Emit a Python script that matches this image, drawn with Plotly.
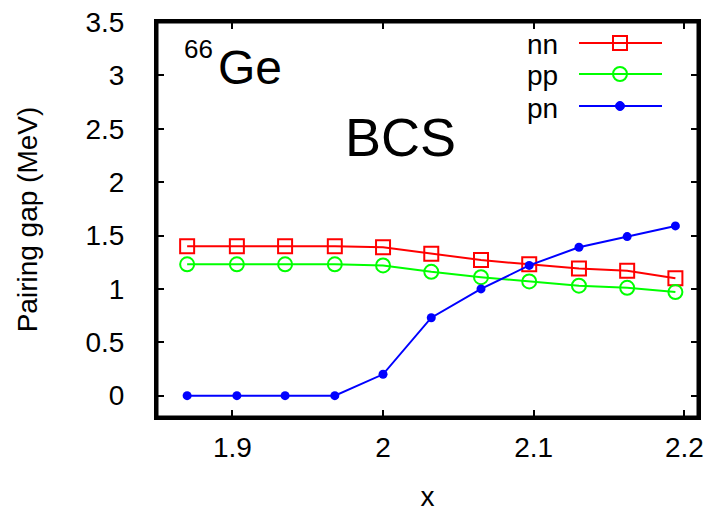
import plotly.graph_objects as go

# ---- data ----
x_vals = [1.870, 1.903, 1.935, 1.968, 2.000, 2.032, 2.065, 2.097, 2.130, 2.162, 2.194]
gap_nn = [1.40, 1.40, 1.40, 1.40, 1.39, 1.33, 1.27, 1.23, 1.19, 1.17, 1.10]
gap_pp = [1.23, 1.23, 1.23, 1.23, 1.22, 1.16, 1.11, 1.07, 1.03, 1.01, 0.97]
gap_pn = [0.00, 0.00, 0.00, 0.00, 0.20, 0.73, 1.00, 1.22, 1.39, 1.49, 1.59]
series_names = ["nn", "pp", "pn"]
x_tickvals = [1.9, 2.0, 2.1, 2.2]
x_ticktext = ["1.9", "2", "2.1", "2.2"]
y_tickvals = [0, 0.5, 1, 1.5, 2, 2.5, 3, 3.5]
y_ticktext = ["0", "0.5", "1", "1.5", "2", "2.5", "3", "3.5"]

# ---- layout geometry (screen pixels of the 715x512 window) ----
W, H = 715, 512
L, R, T, B = 157, 698, 22, 417
FONT = "Liberation Sans, Arial, sans-serif"
FS = 28

def px(xp):
    return (xp - L) / (R - L)

def py(yp):
    return (B - yp) / (B - T)

RED, GREEN, BLUE = "#ff0000", "#00ff00", "#0000ff"

fig = go.Figure()
fig.add_trace(go.Scatter(x=x_vals, y=gap_nn, mode="lines+markers", name=series_names[0],
                         line=dict(color=RED, width=2),
                         marker=dict(symbol="square-open", size=14, color=RED, line=dict(width=2, color=RED))))
fig.add_trace(go.Scatter(x=x_vals, y=gap_pp, mode="lines+markers", name=series_names[1],
                         line=dict(color=GREEN, width=2),
                         marker=dict(symbol="circle-open", size=14, color=GREEN, line=dict(width=2, color=GREEN))))
fig.add_trace(go.Scatter(x=x_vals, y=gap_pn, mode="lines+markers", name=series_names[2],
                         line=dict(color=BLUE, width=2),
                         marker=dict(symbol="circle", size=9, color=BLUE)))

axis_common = dict(showline=True, linewidth=3, linecolor="black", mirror="ticks",
                   ticks="inside", ticklen=7, tickwidth=2, tickcolor="black",
                   showgrid=False, zeroline=False, ticklabeloverflow="allow",
                   tickfont=dict(family=FONT, size=FS, color="black"))

fig.update_xaxes(range=[1.85, 2.209], tickvals=x_tickvals, ticktext=x_ticktext,
                 ticklabelstandoff=3,
                 title=dict(text="x", font=dict(family=FONT, size=FS, color="black"), standoff=26),
                 **axis_common)
fig.update_yaxes(range=[-0.2, 3.5], tickvals=y_tickvals, ticktext=y_ticktext,
                 ticklabelstandoff=24,
                 title=dict(text="Pairing gap (MeV)", font=dict(family=FONT, size=FS, color="black"), standoff=40),
                 **axis_common)

annotations = [
    dict(text="66", x=px(182), y=py(49), xref="paper", yref="paper", xanchor="left", yanchor="middle",
         showarrow=False, font=dict(family=FONT, size=FS - 2, color="black")),
    dict(text="Ge", x=px(216), y=py(68), xref="paper", yref="paper", xanchor="left", yanchor="middle",
         showarrow=False, font=dict(family=FONT, size=48, color="black")),
    dict(text="BCS", x=px(400), y=py(137), xref="paper", yref="paper", xanchor="center", yanchor="middle",
         showarrow=False, font=dict(family=FONT, size=54, color="black")),
]

# explicit frame
shapes = [dict(type="rect", xref="paper", yref="paper", x0=0, x1=1, y0=0, y1=1,
               line=dict(color="black", width=3), fillcolor="rgba(0,0,0,0)", layer="above")]

legend_rows = [43, 74, 106]
legend_colors = [RED, GREEN, BLUE]
for name, yrow, col, k in zip(series_names, legend_rows, legend_colors, range(3)):
    annotations.append(dict(text=name, x=px(560), y=py(yrow + 2), xref="paper", yref="paper",
                            xanchor="right", yanchor="middle", showarrow=False,
                            font=dict(family=FONT, size=FS, color="black")))
    shapes.append(dict(type="line", xref="paper", yref="paper", x0=px(579), x1=px(662),
                       y0=py(yrow), y1=py(yrow), line=dict(color=col, width=2)))
    if k == 0:
        shapes.append(dict(type="rect", xref="paper", yref="paper", xsizemode="pixel", ysizemode="pixel",
                           xanchor=px(620), yanchor=py(yrow), x0=-7, x1=7, y0=-7, y1=7,
                           line=dict(color=col, width=2), fillcolor="rgba(0,0,0,0)"))
    elif k == 1:
        shapes.append(dict(type="circle", xref="paper", yref="paper", xsizemode="pixel", ysizemode="pixel",
                           xanchor=px(620), yanchor=py(yrow), x0=-7, x1=7, y0=-7, y1=7,
                           line=dict(color=col, width=2), fillcolor="rgba(0,0,0,0)"))
    else:
        shapes.append(dict(type="circle", xref="paper", yref="paper", xsizemode="pixel", ysizemode="pixel",
                           xanchor=px(620), yanchor=py(yrow), x0=-4.5, x1=4.5, y0=-4.5, y1=4.5,
                           line=dict(color=col, width=1), fillcolor=col))

fig.update_layout(width=W, height=H,
                  margin=dict(l=L, r=W - R, t=T, b=H - B, autoexpand=False),
                  paper_bgcolor="white", plot_bgcolor="white", showlegend=False,
                  annotations=annotations, shapes=shapes,
                  font=dict(family=FONT, size=FS, color="black"))

fig.write_html("out.html", config={"displayModeBar": False},
               post_script="document.body.style.margin='0px';document.body.style.overflow='hidden';")
